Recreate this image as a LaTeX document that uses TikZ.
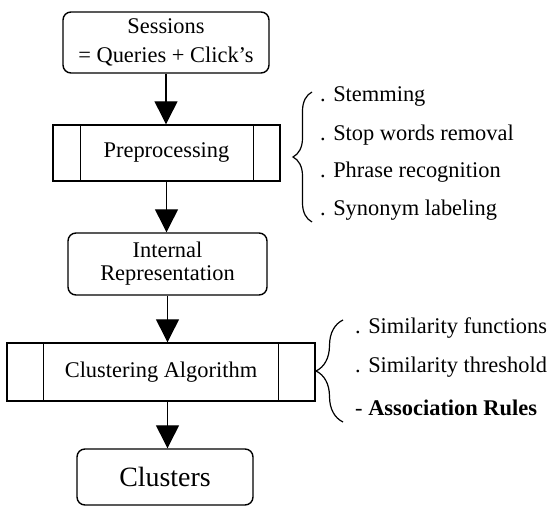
\documentclass[tikz,border=0pt]{standalone}
\usepackage{fontspec}
\setmainfont{Liberation Serif}
\usetikzlibrary{arrows.meta,decorations.pathreplacing}

\begin{document}
\begin{tikzpicture}[x=1bp,y=1bp,
    every node/.style={font=\fontsize{22.5}{23}\selectfont},
    box/.style={draw,line width=1.4bp,rounded corners=8bp,align=center,inner sep=0pt},
    procbox/.style={draw,line width=1.4bp,inner sep=0pt},
    item/.style={anchor=west,inner sep=0pt},
    flow/.style={line width=1.3bp,-{Triangle[length=23bp,width=23bp]}},
    curly/.style={line width=1.2bp,decorate}]

  \useasboundingbox (0,0) rectangle (550,506);

  \node [box,minimum width=206bp,minimum height=61bp,
         font=\fontsize{22.5}{29}\selectfont] (sessions) at (166,463.5)
        {Sessions\\ = Queries + Click's};

  \node [procbox,minimum width=227bp,minimum height=56bp] (prep) at (166.5,353)
        {Preprocessing};
  \draw [line width=1.4bp] ([xshift=28bp]prep.north west) --
        ([xshift=28bp]prep.south west);
  \draw [line width=1.4bp] ([xshift=-27bp]prep.north east) --
        ([xshift=-27bp]prep.south east);

  \node [box,minimum width=199bp,minimum height=62bp] (intrep) at (167.5,242)
        {Internal\\ Representation};

  \node [procbox,minimum width=308bp,minimum height=58bp] (clusalg) at (161,134)
        {Clustering Algorithm};
  \draw [line width=1.4bp] ([xshift=37bp]clusalg.north west) --
        ([xshift=37bp]clusalg.south west);
  \draw [line width=1.4bp] ([xshift=-37bp]clusalg.north east) --
        ([xshift=-37bp]clusalg.south east);

  \node [box,minimum width=176bp,minimum height=56bp,
         font=\fontsize{28}{30}\selectfont] (clusters) at (165,29)
        {Clusters};

  % flow between the steps
  \draw [flow] (sessions.south) -- (sessions.south |- prep.north);
  \draw [flow] (prep.south) -- (prep.south |- intrep.north);
  \draw [flow] (intrep.south) -- (intrep.south |- clusalg.north);
  \draw [flow] (intrep.south |- clusalg.south) -- (intrep.south |- clusters.north);

  % preprocessing details
  \draw [curly,decoration={brace,amplitude=19bp}] (312,284) -- (312,414);
  \node [item] (stem) at (320,409) {. Stemming};
  \node [item] (stop) at (320,371) {. Stop words removal};
  \node [item] (phrase) at (320,334) {. Phrase recognition};
  \node [item] (synonym) at (320,296) {. Synonym labeling};

  % clustering details
  \draw [curly,decoration={brace,amplitude=27bp}] (343,84) -- (343,186);
  \node [item] (simfun) at (355,178) {. Similarity functions};
  \node [item] (simthr) at (355,139) {. Similarity threshold};
  \node [item] (assoc) at (355,98) {- \textbf{Association Rules}};

\end{tikzpicture}
\end{document}
